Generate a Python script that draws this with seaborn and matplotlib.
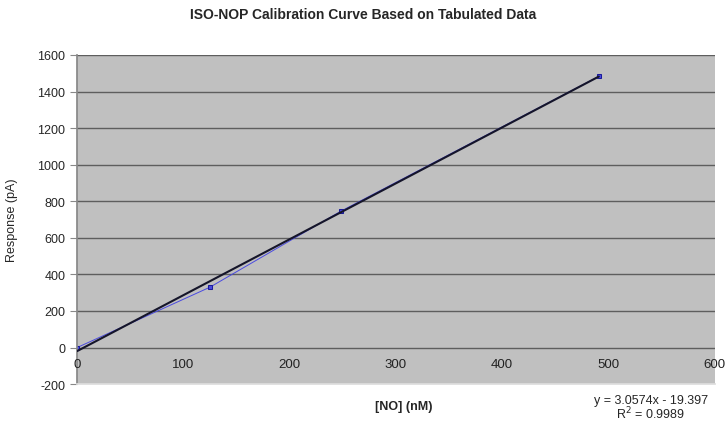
import numpy as np
import pandas as pd
import matplotlib.pyplot as plt
import seaborn as sns

# ── data ──────────────────────────────────────────────────────────────────────
conc_nM  = [0, 125, 248, 491]
resp_pA  = [0, 330, 745, 1483]
slope, intercept, r2 = 3.0574, -19.397, 0.9989
x_ticks = [0, 100, 200, 300, 400, 500, 600]
y_ticks = [-200, 0, 200, 400, 600, 800, 1000, 1200, 1400, 1600]

sns.set_theme(style="white")
plt.rcParams["font.family"] = ["Liberation Sans", "DejaVu Sans"]

df = pd.DataFrame({"conc": conc_nM, "resp": resp_pA})
fit_x = np.array([conc_nM[0], conc_nM[-1]])
fit = pd.DataFrame({"conc": fit_x, "resp": slope * fit_x + intercept})

fig = plt.figure(figsize=(7.27, 4.27), dpi=100)
ax = fig.add_axes([0.106, 0.098, 0.877, 0.771])
ax.set_facecolor("#c0c0c0")

# gridlines every 200 pA
for yv in y_ticks[1:]:
    ax.axhline(yv, color="#5e5e5e", linewidth=1.0, zorder=1)

sns.lineplot(data=df, x="conc", y="resp", ax=ax, color="#4a4ae0", linewidth=0.7,
             marker="s", markersize=2.5, markeredgecolor="#1a1a9a", zorder=2)
sns.lineplot(data=fit, x="conc", y="resp", ax=ax, color="#15152a", linewidth=1.5, zorder=3)

ax.set_xlim(0, 600)
ax.set_ylim(-200, 1600)
ax.set_yticks(y_ticks)
ax.set_yticklabels([str(v) for v in y_ticks], fontsize=9)
ax.set_xticks([])
for xv in x_ticks:
    ax.text(xv, -55, str(xv), ha="center", va="top", fontsize=9.5, color="#222222")
ax.tick_params(axis="y", length=5, width=0.8, color="#888888", direction="out", left=True)

for s in ["top", "right"]:
    ax.spines[s].set_visible(False)
ax.spines["left"].set_color("#888888")
ax.spines["bottom"].set_color("#dddddd")

ax.set_xlabel("")
ax.set_ylabel("Response (pA)", fontsize=9, labelpad=14)
fig.text(0.555, 0.04, "[NO] (nM)", ha="center", fontsize=9, fontweight="bold")
fig.text(0.5, 0.955, "ISO-NOP Calibration Curve Based on Tabulated Data",
         ha="center", fontsize=10, fontweight="bold")
fig.text(0.895, 0.055, f"y = {slope}x - {abs(intercept)}", ha="center", fontsize=9)
fig.text(0.895, 0.018, f"R$^2$ = {r2}", ha="center", fontsize=9)

plt.savefig("out.png", dpi=100)
